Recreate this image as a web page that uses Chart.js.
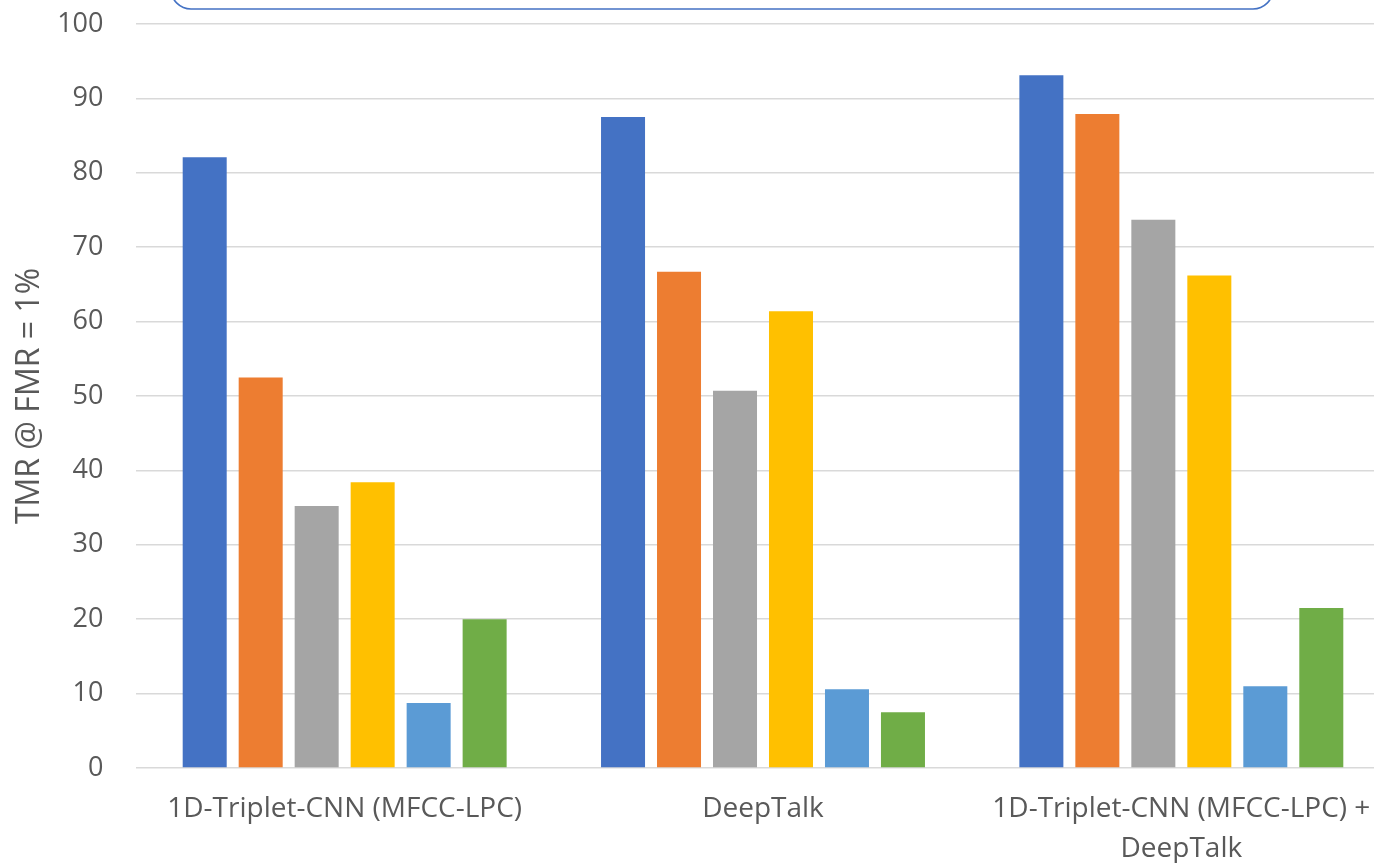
<!DOCTYPE html>
<html>
<head>
<meta charset="utf-8">
<script src="https://cdn.jsdelivr.net/npm/chart.js@4.4.1/dist/chart.umd.min.js"></script>
<style>
  html, body { margin: 0; padding: 0; background: #ffffff; overflow: hidden; }
  #frame { position: relative; width: 1374px; height: 863px; overflow: hidden; }
  #wrap { position: absolute; left: 0; top: 0; width: 1392px; height: 863px; }
</style>
</head>
<body>
<div id="frame"><div id="wrap"><canvas id="chart"></canvas></div></div>
<script>
// Methods compared on the x axis
const categories = [
  '1D-Triplet-CNN (MFCC-LPC)',
  'DeepTalk',
  ['1D-Triplet-CNN (MFCC-LPC) +', 'DeepTalk']
];

// TMR @ FMR = 1% for each of the six series, one value per method
const series1 = [82.1, 87.5, 93.1];
const series2 = [52.5, 66.7, 87.9];
const series3 = [35.2, 50.7, 73.7];
const series4 = [38.4, 61.4, 66.2];
const series5 = [8.75, 10.6, 11.0];
const series6 = [20.0, 7.5, 21.5];

const seriesNames = ['Series 1', 'Series 2', 'Series 3', 'Series 4', 'Series 5', 'Series 6'];
const seriesColors = ['#4472C4', '#ED7D31', '#A5A5A5', '#FFC000', '#5B9BD5', '#70AD47'];

// Value axis range
const yMin = 0;
const yMax = 100;
const yStep = 10;

const textColor = '#595959';
const gridColor = '#d9d9d9';
const fontFamily = '"Open Sans", "Noto Sans", sans-serif';

// Rounded frame of the header box at the top of the chart
const headerBox = {
  id: 'headerBox',
  afterDraw(chart) {
    const ctx = chart.ctx;
    const x0 = 171, x1 = 1273, y0 = -60, y1 = 9, r = 20;
    ctx.save();
    ctx.strokeStyle = '#4472C4';
    ctx.lineWidth = 1.6;
    ctx.beginPath();
    ctx.moveTo(x0, y0);
    ctx.lineTo(x0, y1 - r);
    ctx.arcTo(x0, y1, x0 + r, y1, r);
    ctx.lineTo(x1 - r, y1);
    ctx.arcTo(x1, y1, x1, y1 - r, r);
    ctx.lineTo(x1, y0);
    ctx.stroke();
    ctx.restore();
  }
};

const allSeries = [series1, series2, series3, series4, series5, series6];

new Chart(document.getElementById('chart'), {
  type: 'bar',
  data: {
    labels: categories,
    datasets: allSeries.map((values, i) => ({
      label: seriesNames[i],
      data: values,
      backgroundColor: seriesColors[i],
      borderWidth: 0,
      categoryPercentage: 0.803,
      barPercentage: 0.786
    }))
  },
  options: {
    responsive: true,
    maintainAspectRatio: false,
    animation: false,
    layout: { padding: { top: 24, right: 1.5, left: 0, bottom: 0 } },
    plugins: {
      legend: { display: false },
      tooltip: { enabled: false }
    },
    scales: {
      x: {
        grid: { display: false, drawTicks: false },
        border: { display: false },
        ticks: {
          color: textColor,
          font: { family: fontFamily, size: 28, lineHeight: 1.43 },
          padding: 21,
          maxRotation: 0,
          autoSkip: false
        },
        afterFit(scale) { scale.height = 95; }
      },
      y: {
        min: yMin,
        max: yMax,
        grid: {
          color: gridColor,
          lineWidth: 1.6,
          drawTicks: true,
          tickLength: 32,
          tickColor: 'rgba(0,0,0,0)'
        },
        border: { display: false },
        ticks: {
          stepSize: yStep,
          color: textColor,
          font: { family: fontFamily, size: 27 },
          padding: 0
        },
        title: {
          display: true,
          text: 'TMR @ FMR = 1%',
          color: textColor,
          font: { family: fontFamily, size: 32 },
          padding: { top: 11, bottom: 0 }
        },
        afterFit(scale) { scale.width = 135.5; }
      }
    }
  },
  plugins: [headerBox]
});
</script>
</body>
</html>
